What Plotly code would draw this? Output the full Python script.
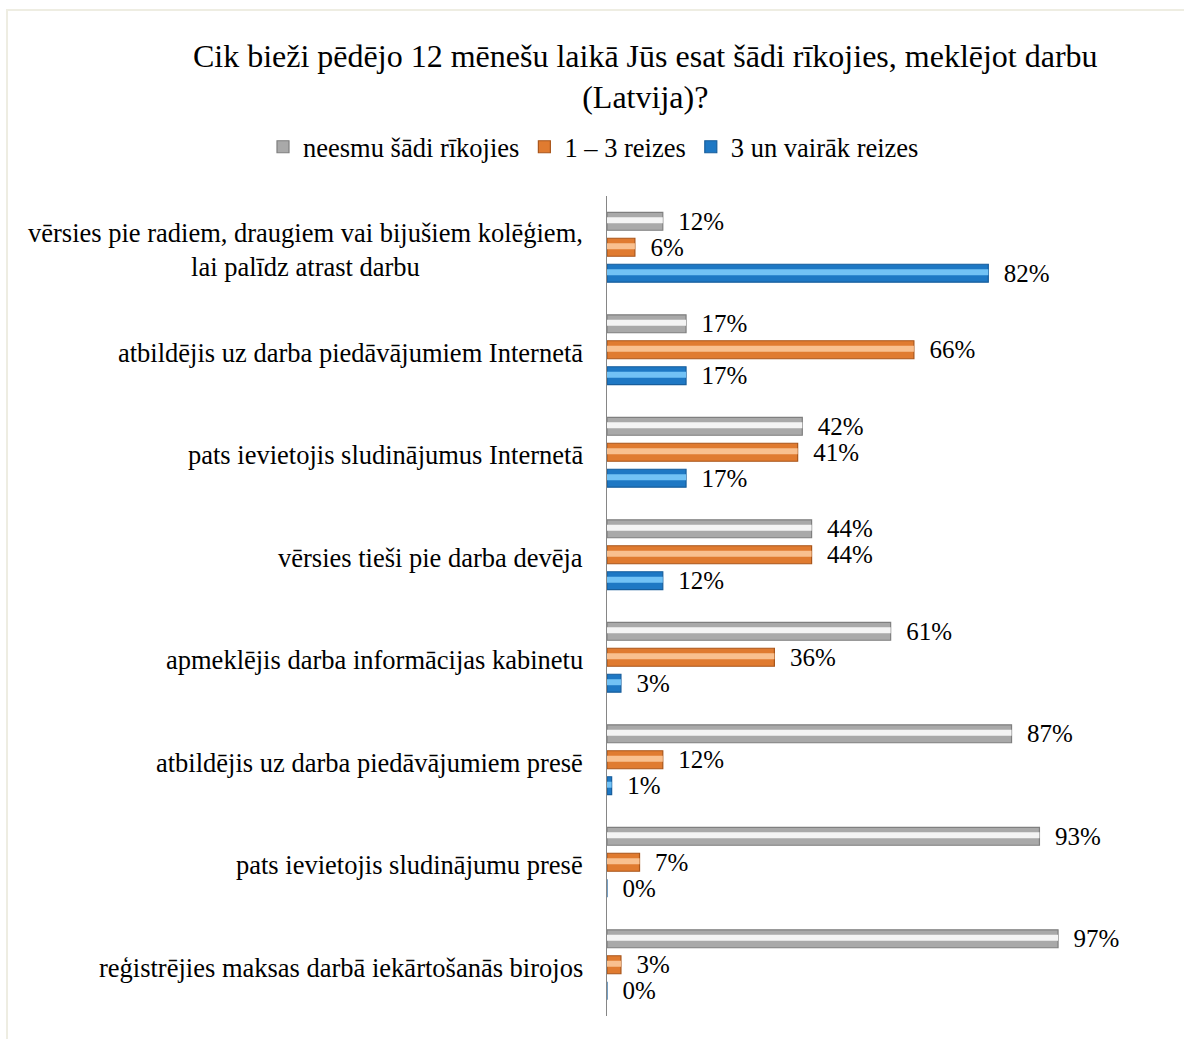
import plotly.graph_objects as go

categories = [
    "vērsies pie radiem, draugiem vai bijušiem kolēģiem,<br>lai palīdz atrast darbu",
    "atbildējis uz darba piedāvājumiem Internetā",
    "pats ievietojis sludinājumus Internetā",
    "vērsies tieši pie darba devēja",
    "apmeklējis darba informācijas kabinetu",
    "atbildējis uz darba piedāvājumiem presē",
    "pats ievietojis sludinājumu presē",
    "reģistrējies maksas darbā iekārtošanās birojos",
]
series_names = ["neesmu šādi rīkojies", "1 – 3 reizes", "3 un vairāk reizes"]
never = [12, 17, 42, 44, 61, 87, 93, 97]
one_to_three = [6, 66, 41, 44, 36, 12, 7, 3]
three_plus = [82, 17, 17, 12, 3, 1, 0, 0]
title_text = "Cik bieži pēdējo 12 mēnešu laikā Jūs esat šādi rīkojies, meklējot darbu<br>(Latvija)?"

FONT = "Liberation Serif, Times New Roman, serif"
base_colors = ["#A9A9A9", "#E07B30", "#1E78C4"]
edge_colors = ["#7F7F7F", "#A9561B", "#175E9C"]
shine_colors = ["#F4F4F4", "#F9C08F", "#72C2F5"]

UNIT_PX = 102.6           # pixel height of one category band
BAR_W = 18 / UNIT_PX      # bar thickness in category units
STEP = 26 / UNIT_PX       # distance between bar centres
SHINE_W = 6 / UNIT_PX     # highlight stripe thickness

fig = go.Figure()
for i, (name, vals) in enumerate(zip(series_names, [never, one_to_three, three_plus])):
    centre = (i - 1) * STEP
    fig.add_trace(go.Bar(
        y=categories, x=vals, name=name, orientation="h",
        width=BAR_W, offset=centre - BAR_W / 2,
        marker=dict(color=base_colors[i], line=dict(color=edge_colors[i], width=1.2)),
        text=[f"{v}%" for v in vals],
        texttemplate="\u00a0\u00a0%{text}",
        textposition="outside",
        constraintext="none",
        textfont=dict(family=FONT, size=25, color="#000000"),
        cliponaxis=False,
    ))
    fig.add_trace(go.Bar(
        y=categories, x=vals, name=name, orientation="h",
        width=SHINE_W, offset=centre - SHINE_W / 2 - 1 / UNIT_PX,
        marker=dict(color=shine_colors[i], line=dict(width=0)),
        showlegend=False, hoverinfo="skip", textposition="none",
    ))

for c in categories:
    fig.add_annotation(
        x=0, y=c, xref="x", yref="y", text=c, showarrow=False,
        xanchor="right", yanchor="middle", align="center", xshift=-22, yshift=-3,
        font=dict(family=FONT, size=26.5, color="#000000"),
    )

# outer frame
fig.add_shape(type="rect", xref="paper", yref="paper",
              x0=(7 - 607) / 465, x1=(1200 - 607) / 465,
              y0=(1016 - 1060) / 820, y1=(1016 - 10) / 820,
              line=dict(color="#EEEDE2", width=2), fillcolor="rgba(0,0,0,0)", layer="below")

fig.update_layout(
    width=1184, height=1039,
    margin=dict(l=607, r=112, t=196, b=23),
    paper_bgcolor="white", plot_bgcolor="white",
    barmode="overlay",
    font=dict(family=FONT, size=26, color="#000000"),
    title=dict(text=title_text, x=0.545, xref="container", xanchor="center",
               y=1 - 66.5 / 1039, yref="container", yanchor="middle",
               font=dict(family=FONT, size=32, color="#000000")),
    legend=dict(orientation="h", x=(263 - 607) / 465, xanchor="left", xref="paper",
                y=(1016 - 147) / 820, yanchor="middle", yref="paper",
                font=dict(family=FONT, size=26.5, color="#000000"),
                traceorder="normal", itemwidth=30),
    showlegend=True,
)
fig.update_xaxes(range=[0, 100], showgrid=False, zeroline=False, showline=False,
                 showticklabels=False, ticks="")
fig.update_yaxes(autorange="reversed", showgrid=False, zeroline=False, showline=True,
                 linecolor="#868686", linewidth=1, showticklabels=False, ticks="",
                 categoryorder="array", categoryarray=categories)

fig.write_html("out.html", config={"displayModeBar": False},
               post_script="document.body.style.margin='0';")
